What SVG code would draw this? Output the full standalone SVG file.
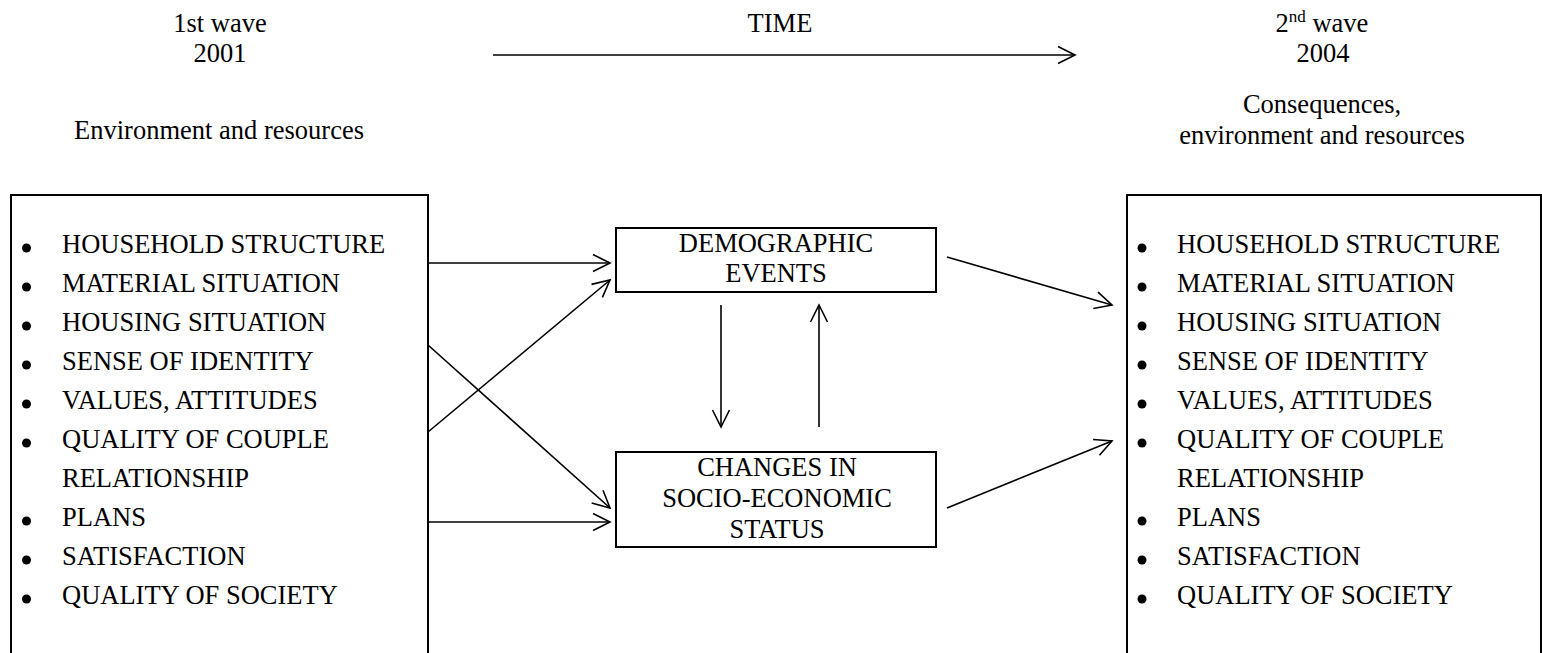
<svg xmlns="http://www.w3.org/2000/svg" width="1542" height="653" viewBox="0 0 1542 653">
<style>
text{font-family:"Liberation Serif","Times New Roman",serif;font-size:26.5px;fill:#000}
.c{text-anchor:middle}
.box{fill:#fff;stroke:#000;stroke-width:2}
.ln{fill:none;stroke:#000;stroke-width:1.6}
.b{fill:#000}
</style>
<defs>
<marker id="ah" viewBox="0 0 20 20" refX="18" refY="10" markerWidth="20" markerHeight="20" markerUnits="userSpaceOnUse" orient="auto">
<path d="M1,1.5 L18,10 L1,18.5" fill="none" stroke="#000" stroke-width="1.6"/>
</marker>
</defs>
<rect width="1542" height="653" fill="#fff"/>
<g id="header">
<text class="c" x="220" y="32">1st wave</text>
<text class="c" x="220" y="62">2001</text>
<text class="c" x="780" y="32">TIME</text>
<text class="c" x="1322" y="32">2<tspan font-size="17" dy="-10">nd</tspan><tspan dy="10"> wave</tspan></text>
<text class="c" x="1323" y="62">2004</text>
<text class="c" x="219" y="139">Environment and resources</text>
<text class="c" x="1322" y="113">Consequences,</text>
<text class="c" x="1322" y="144">environment and resources</text>
</g>
<g id="left-box">
<rect class="box" x="11" y="195" width="417" height="470"/>
<g class="b">
<circle cx="26.5" cy="248" r="4.5"/><circle cx="26.5" cy="287" r="4.5"/><circle cx="26.5" cy="326" r="4.5"/><circle cx="26.5" cy="365" r="4.5"/><circle cx="26.5" cy="404" r="4.5"/><circle cx="26.5" cy="443" r="4.5"/><circle cx="26.5" cy="521" r="4.5"/><circle cx="26.5" cy="560" r="4.5"/><circle cx="26.5" cy="599" r="4.5"/>
</g>
<text x="62" y="253">HOUSEHOLD STRUCTURE</text>
<text x="62" y="292">MATERIAL SITUATION</text>
<text x="62" y="331">HOUSING SITUATION</text>
<text x="62" y="370">SENSE OF IDENTITY</text>
<text x="62" y="409">VALUES, ATTITUDES</text>
<text x="62" y="448">QUALITY OF COUPLE</text>
<text x="62" y="487">RELATIONSHIP</text>
<text x="62" y="526">PLANS</text>
<text x="62" y="565">SATISFACTION</text>
<text x="62" y="604">QUALITY OF SOCIETY</text>
</g>
<g id="demographic">
<rect class="box" x="616" y="228" width="320" height="64"/>
<text class="c" x="776" y="252">DEMOGRAPHIC</text>
<text class="c" x="776" y="282">EVENTS</text>
</g>
<g id="socio">
<rect class="box" x="616" y="452" width="320" height="95"/>
<text class="c" x="777" y="476">CHANGES IN</text>
<text class="c" x="777" y="507">SOCIO-ECONOMIC</text>
<text class="c" x="777" y="538">STATUS</text>
</g>
<g id="right-box">
<rect class="box" x="1127" y="195" width="414" height="470"/>
<g class="b">
<circle cx="1142" cy="248" r="4.5"/><circle cx="1142" cy="287" r="4.5"/><circle cx="1142" cy="326" r="4.5"/><circle cx="1142" cy="365" r="4.5"/><circle cx="1142" cy="404" r="4.5"/><circle cx="1142" cy="443" r="4.5"/><circle cx="1142" cy="521" r="4.5"/><circle cx="1142" cy="560" r="4.5"/><circle cx="1142" cy="599" r="4.5"/>
</g>
<text x="1177" y="253">HOUSEHOLD STRUCTURE</text>
<text x="1177" y="292">MATERIAL SITUATION</text>
<text x="1177" y="331">HOUSING SITUATION</text>
<text x="1177" y="370">SENSE OF IDENTITY</text>
<text x="1177" y="409">VALUES, ATTITUDES</text>
<text x="1177" y="448">QUALITY OF COUPLE</text>
<text x="1177" y="487">RELATIONSHIP</text>
<text x="1177" y="526">PLANS</text>
<text x="1177" y="565">SATISFACTION</text>
<text x="1177" y="604">QUALITY OF SOCIETY</text>
</g>
<g id="connectors">
<line class="ln" x1="493" y1="55" x2="1075" y2="55" marker-end="url(#ah)"/>
<line class="ln" x1="428" y1="263" x2="610" y2="263" marker-end="url(#ah)"/>
<line class="ln" x1="428" y1="432" x2="610" y2="280" marker-end="url(#ah)"/>
<line class="ln" x1="428" y1="345" x2="610" y2="508" marker-end="url(#ah)"/>
<line class="ln" x1="428" y1="522" x2="610" y2="522" marker-end="url(#ah)"/>
<line class="ln" x1="721" y1="305" x2="721" y2="427" marker-end="url(#ah)"/>
<line class="ln" x1="819" y1="427" x2="819" y2="305" marker-end="url(#ah)"/>
<line class="ln" x1="947" y1="257" x2="1112" y2="305" marker-end="url(#ah)"/>
<line class="ln" x1="947" y1="508" x2="1112" y2="441" marker-end="url(#ah)"/>
</g>
</svg>
